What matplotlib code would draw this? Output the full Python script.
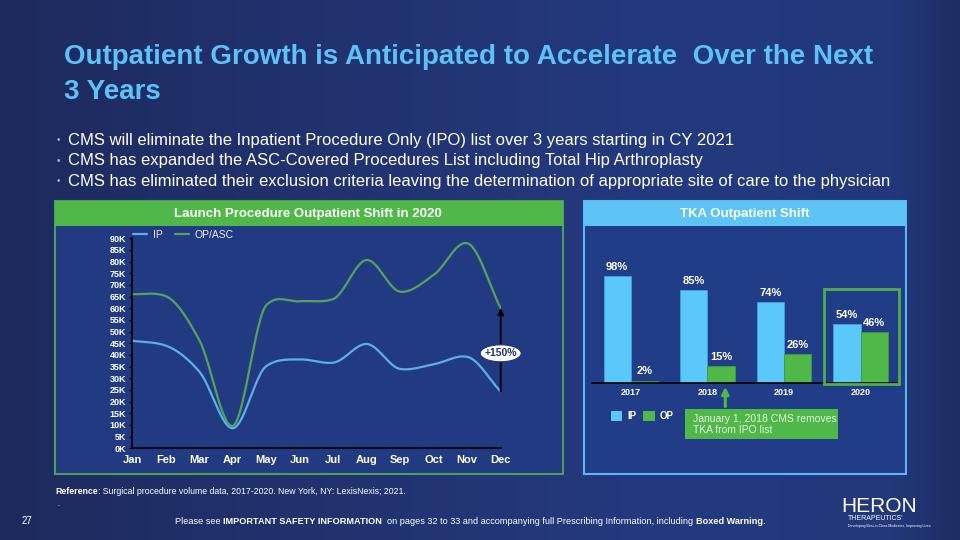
import matplotlib
matplotlib.use("Agg")
import matplotlib.pyplot as plt
import numpy as np
from matplotlib.patches import Rectangle, FancyArrowPatch, Ellipse

# ---- data ----
months = ["Jan", "Feb", "Mar", "Apr", "May", "Jun", "Jul", "Aug", "Sep", "Oct", "Nov", "Dec"]
ip_volume = [46.1, 44.0, 32.9, 8.6, 35.2, 38.1, 36.7, 44.7, 34.0, 36.0, 39.2, 24.3]
op_volume = [66.1, 65.2, 46.4, 9.6, 61.3, 63.0, 64.0, 80.7, 67.1, 74.3, 87.9, 60.0]
y_ticks_k = list(range(0, 95, 5))

years = ["2017", "2018", "2019", "2020"]
tka_ip = [98, 85, 74, 54]
tka_op = [2, 15, 26, 46]

title = "Outpatient Growth is Anticipated to Accelerate  Over the Next\n3 Years"
bullets = [
    "CMS will eliminate the Inpatient Procedure Only (IPO) list over 3 years starting in CY 2021",
    "CMS has expanded the ASC-Covered Procedures List including Total Hip Arthroplasty",
    "CMS has eliminated their exclusion criteria leaving the determination of appropriate site of care to the physician",
]

SANS = ["Liberation Sans", "DejaVu Sans"]
plt.rcParams["font.family"] = SANS

BG = "#22367c"
LIGHT_BLUE = "#5ac8fa"
GREEN = "#50b848"
IP_LINE = "#5ab0ea"
OP_LINE = "#55a35a"
TITLE_BLUE = "#5cc2f7"

W, H = 960, 540


def fx(x):
    return x / W


def fy(y):
    return 1 - y / H


def rect(x0, y0, x1, y1):
    return [fx(x0), fy(y1), fx(x1) - fx(x0), fy(y0) - fy(y1)]


def box(x0, y0, x1, y1, **kw):
    p = Rectangle((fx(x0), fy(y1)), fx(x1) - fx(x0), fy(y0) - fy(y1), transform=fig.transFigure, **kw)
    fig.add_artist(p)
    return p


def smooth(x, y, n=30):
    # cubic hermite through the points; tangents are a blend of
    # catmull-rom and monotone slopes (soft like an office "smoothed line")
    x = np.asarray(x, float)
    y = np.asarray(y, float)
    h = np.diff(x)
    d = np.diff(y) / h
    mono = np.zeros_like(y)
    cr = np.zeros_like(y)
    mono[0], mono[-1] = d[0], d[-1]
    cr[0], cr[-1] = d[0], d[-1]
    for i in range(1, len(y) - 1):
        cr[i] = (y[i + 1] - y[i - 1]) / (x[i + 1] - x[i - 1])
        if d[i - 1] * d[i] > 0:
            mono[i] = 2 / (1 / d[i - 1] + 1 / d[i])
    m = 0.5 * (mono + cr)
    xs, ys = [], []
    for i in range(len(y) - 1):
        t = np.linspace(0, 1, n)
        if i > 0:
            t = t[1:]
        h00 = 2 * t ** 3 - 3 * t ** 2 + 1
        h10 = t ** 3 - 2 * t ** 2 + t
        h01 = -2 * t ** 3 + 3 * t ** 2
        h11 = t ** 3 - t ** 2
        xs.append(x[i] + t * h[i])
        ys.append(h00 * y[i] + h10 * h[i] * m[i] + h01 * y[i + 1] + h11 * h[i] * m[i + 1])
    return np.concatenate(xs), np.concatenate(ys)


def run_text(x, y, pieces, **kw):
    # draw pieces of text one after another on one line, some bold
    renderer = fig.canvas.get_renderer()
    cur = fx(x)
    for s, bold in pieces:
        t = fig.text(cur, fy(y), s, fontweight="bold" if bold else "normal", va="center", **kw)
        bb = t.get_window_extent(renderer=renderer)
        cur += bb.width / fig.bbox.width


fig = plt.figure(figsize=(9.6, 5.4), dpi=100)

# background gradient
bg = fig.add_axes([0, 0, 1, 1], zorder=-10)
xs = np.linspace(0, 1, 400)
r = np.interp(xs, [0, 0.15, 0.7, 0.93, 1], [0.118, 0.125, 0.141, 0.135, 0.118])
g = np.interp(xs, [0, 0.15, 0.7, 0.93, 1], [0.165, 0.180, 0.227, 0.220, 0.180])
b = np.interp(xs, [0, 0.15, 0.7, 0.93, 1], [0.365, 0.400, 0.500, 0.480, 0.390])
img = np.stack([r, g, b], axis=1)[None, :, :]
bg.imshow(np.repeat(img, 2, axis=0), aspect="auto", extent=[0, 1, 0, 1])
bg.set_axis_off()

# title and bullets
fig.text(fx(64), fy(57), title.split("\n")[0], color=TITLE_BLUE, fontsize=20, fontweight="bold", va="center")
fig.text(fx(64), fy(92), title.split("\n")[1], color=TITLE_BLUE, fontsize=20, fontweight="bold", va="center")
for i, line in enumerate(bullets):
    yy = 140 + i * 20.5
    fig.text(fx(57), fy(yy), "•", color="#9fb0d0", fontsize=7, va="center")
    fig.text(fx(68), fy(yy), line, color="white", fontsize=12, va="center")

# panels
box(54.5, 201, 563, 474, facecolor="#223a82", edgecolor="#4f9c5c", lw=1.5, zorder=-5)
box(54.5, 201, 563, 226, facecolor=GREEN, edgecolor="none", zorder=-4)
fig.text(fx(308), fy(213.5), "Launch Procedure Outpatient Shift in 2020", color="white",
         fontsize=9.5, fontweight="bold", ha="center", va="center")

box(584, 201, 906, 474, facecolor="#223d88", edgecolor="#5ab8f2", lw=1.5, zorder=-5)
box(584, 201, 906, 226, facecolor="#5dc3f4", edgecolor="none", zorder=-4)
fig.text(fx(745), fy(213.5), "TKA Outpatient Shift", color="white",
         fontsize=9.5, fontweight="bold", ha="center", va="center")

# ---- line chart ----
ax = fig.add_axes(rect(132.3, 238.3, 500.7, 448.3), zorder=2)
ax.set_facecolor("none")
xm = np.arange(len(months))
sx, sy = smooth(xm, ip_volume)
ax.plot(sx, sy, color=IP_LINE, lw=1.6, label="IP", solid_capstyle="round")
sx, sy = smooth(xm, op_volume)
ax.plot(sx, sy, color=OP_LINE, lw=1.6, label="OP/ASC", solid_capstyle="round")
ax.set_xlim(0, 11)
ax.set_ylim(0, 90)
ax.set_yticks(y_ticks_k)
ax.set_yticklabels([f"{v}K" for v in y_ticks_k])
ax.set_xticks(xm)
ax.set_xticklabels(months)
for s in ["top", "right"]:
    ax.spines[s].set_visible(False)
for s in ["left", "bottom"]:
    ax.spines[s].set_color("black")
    ax.spines[s].set_linewidth(1.2)
ax.tick_params(axis="y", colors="black", labelcolor="white", labelsize=6.5, length=2.5, width=0.8, pad=2)
ax.tick_params(axis="x", length=0, labelcolor="white", labelsize=8, pad=5)
for lab in ax.get_yticklabels() + ax.get_xticklabels():
    lab.set_fontweight("bold")
leg = ax.legend(loc="upper left", ncol=2, frameon=False, fontsize=7.5, handlelength=1.4,
                handletextpad=0.5, columnspacing=1.2, bbox_to_anchor=(-0.01, 1.06), borderaxespad=0)
for t in leg.get_texts():
    t.set_color("#e8ecf5")

ax.annotate("", xy=(11, op_volume[-1]), xytext=(11, ip_volume[-1]),
            arrowprops=dict(arrowstyle="-|>", color="black", lw=1.3, mutation_scale=9, shrinkA=0, shrinkB=0),
            annotation_clip=False)
# "+150%" badge
fig.add_artist(Ellipse((fx(500.7), fy(353.3)), fx(41), 17 / H, transform=fig.transFigure,
                       facecolor="white", edgecolor="#1f3577", lw=0.8, zorder=6))
fig.text(fx(500.7), fy(353.3), "+150%", color="#1f3577", fontsize=7.5, fontweight="bold",
         ha="center", va="center", zorder=7)

# ---- bar chart ----
bx = fig.add_axes(rect(591.7, 273.5, 899, 382.7), zorder=2)
bx.set_facecolor("none")
xb = np.arange(len(years))
bw = 0.356
ip_bars = bx.bar(xb - bw / 2, tka_ip, width=bw, color=LIGHT_BLUE, edgecolor="#3f9fe0", lw=0.6)
op_bars = bx.bar(xb + bw / 2, tka_op, width=bw, color=GREEN, edgecolor="#3f9a3c", lw=0.6)
for bars, vals in [(ip_bars, tka_ip), (op_bars, tka_op)]:
    for bar, v in zip(bars, vals):
        bx.annotate(f"{v}%", (bar.get_x() + bar.get_width() / 2, v), xytext=(0, 3),
                    textcoords="offset points", ha="center", va="bottom", color="white",
                    fontsize=8, fontweight="bold")
bx.set_xlim(-0.51, 3.5)
bx.set_ylim(0, 100)
bx.set_yticks([])
bx.set_xticks(xb)
bx.set_xticklabels(years)
bx.tick_params(axis="x", length=0, labelcolor="white", labelsize=6.5, pad=4)
for lab in bx.get_xticklabels():
    lab.set_fontweight("bold")
for s in ["top", "right", "left"]:
    bx.spines[s].set_visible(False)
bx.spines["bottom"].set_color("black")
bx.spines["bottom"].set_linewidth(1.2)

# highlight box around 2020
box(824, 289, 899, 384, facecolor="none", edgecolor="#4fae50", lw=2, zorder=5)

# bar legend
box(610.7, 411, 621.7, 421, facecolor=LIGHT_BLUE, edgecolor="none", zorder=3)
fig.text(fx(627), fy(416), "IP", color="white", fontsize=7, fontweight="bold", va="center")
box(642.7, 411, 654.7, 421, facecolor=GREEN, edgecolor="none", zorder=3)
fig.text(fx(660), fy(416), "OP", color="white", fontsize=7, fontweight="bold", va="center")

# callout
box(685, 409.3, 837.7, 439.3, facecolor=GREEN, edgecolor="none", zorder=3)
fig.text(fx(693), fy(424.5), "January 1, 2018 CMS removes\nTKA from IPO list", color="#e4f3e0",
         fontsize=7.5, va="center", linespacing=1.15, zorder=4)
fig.add_artist(FancyArrowPatch((fx(725.3), fy(409.3)), (fx(725.3), fy(384)),
                               transform=fig.transFigure, arrowstyle="-|>",
                               mutation_scale=10, color=GREEN, lw=2.2, zorder=4))

# footer
run_text(55, 491, [("Reference", True),
                   (": Surgical procedure volume data, 2017-2020. New York, NY: LexisNexis; 2021.", False)],
         color="white", fontsize=6.3)
fig.text(fx(57), fy(505), ".", color="white", fontsize=5, va="center")
fig.text(fx(22), fy(521), "27", color="white", fontsize=7, va="center")
run_text(175, 521, [("Please see ", False), ("IMPORTANT SAFETY INFORMATION", True),
                    ("  on pages 32 to 33 and accompanying full Prescribing Information, including ", False),
                    ("Boxed Warning", True), (".", False)],
         color="white", fontsize=6.6)

# logo
fig.text(fx(879), fy(506), "HERON", color="white", fontsize=15, fontweight="light",
         ha="center", va="center")
fig.text(fx(848), fy(519), "THERAPEUTICS'", color="white", fontsize=5, va="center")
fig.text(fx(848), fy(526), "Developing Best-in-Class Medicines, Improving Lives", color="white", fontsize=2.5, va="center")

fig.savefig("out.png", dpi=100, facecolor=BG)
